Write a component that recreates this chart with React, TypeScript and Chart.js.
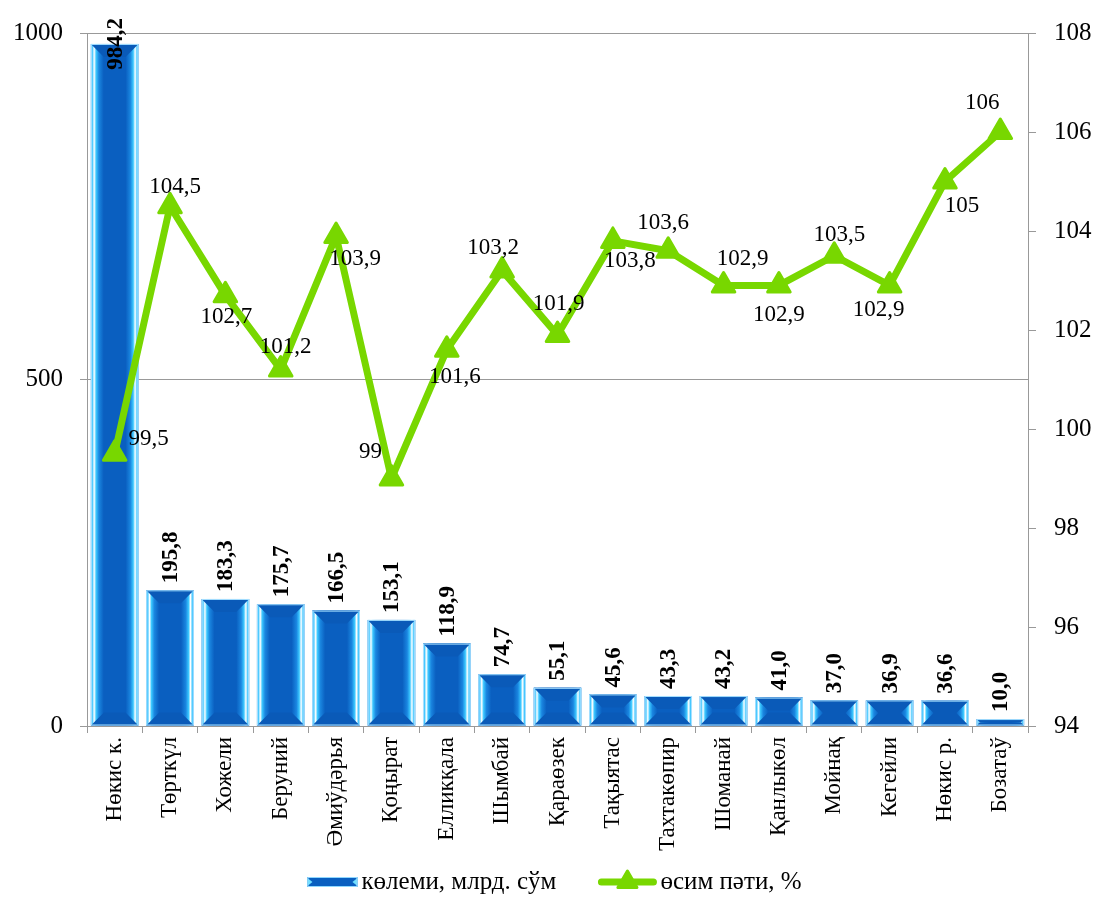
import React, { useEffect, useRef } from "react";
import { Chart, registerables } from "chart.js";

Chart.register(...registerables);

const categories = [
  "Нөкис к.",
  "Төрткүл",
  "Хожели",
  "Беруний",
  "Әмиўдәрья",
  "Қоңырат",
  "Елликқала",
  "Шымбай",
  "Қараөзек",
  "Тақыятас",
  "Тахтакөпир",
  "Шоманай",
  "Қанлыкөл",
  "Мойнақ",
  "Кегейли",
  "Нөкис р.",
  "Бозатаў",
];

const volumes = [984.2, 195.8, 183.3, 175.7, 166.5, 153.1, 118.9, 74.7, 55.1, 45.6, 43.3, 43.2, 41.0, 37.0, 36.9, 36.6, 10.0];

const growth = [99.5, 104.5, 102.7, 101.2, 103.9, 99, 101.6, 103.2, 101.9, 103.8, 103.6, 102.9, 102.9, 103.5, 102.9, 105, 106];

const seriesNames = ["көлеми, млрд. сўм", "өсим пәти, %"];

const leftAxis = { min: 0, max: 1000, step: 500 };
const rightAxis = { min: 94, max: 108, step: 2 };

// label placement (style only): offsets from each growth point
const growthLabelOffsets: [number, number][] = [
  [34, -15], [5, -19], [1, 22], [5, -23], [19, 23], [-21, -27], [8, 27], [-9, -23], [1, -31],
  [17, 20], [-5, -28], [19, -26], [0, 30], [5, -21], [-11, 25], [17, 24], [-18, -29],
];

const FONT = "'Liberation Serif', 'Times New Roman', serif";
const GREEN = "#78d700";
const BLUE = "#0a5fc0";

function paintBar(ctx: CanvasRenderingContext2D, left: number, top: number, right: number, bottom: number) {
  const w = right - left;
  const h = bottom - top;
  if (w <= 0 || h <= 0) return;
  const g = ctx.createLinearGradient(left, 0, right, 0);
  g.addColorStop(0, "#8fd8ff");
  g.addColorStop(0.03, "#3fc6ff");
  g.addColorStop(0.07, "#ffffff");
  g.addColorStop(0.11, "#3cc8ff");
  g.addColorStop(0.17, "#1a86e0");
  g.addColorStop(0.27, BLUE);
  g.addColorStop(0.73, BLUE);
  g.addColorStop(0.83, "#1a86e0");
  g.addColorStop(0.89, "#3cc8ff");
  g.addColorStop(0.93, "#ffffff");
  g.addColorStop(0.97, "#3fc6ff");
  g.addColorStop(1, "#8fd8ff");
  ctx.fillStyle = g;
  ctx.fillRect(left, top, w, h);
  const b = Math.min(13, h / 2, w / 2);
  ctx.fillStyle = "#0a5ab8";
  ctx.beginPath();
  ctx.moveTo(left, top);
  ctx.lineTo(right, top);
  ctx.lineTo(right - b, top + b);
  ctx.lineTo(left + b, top + b);
  ctx.closePath();
  ctx.fill();
  ctx.beginPath();
  ctx.moveTo(left, bottom);
  ctx.lineTo(right, bottom);
  ctx.lineTo(right - b, bottom - b);
  ctx.lineTo(left + b, bottom - b);
  ctx.closePath();
  ctx.fill();
  ctx.strokeStyle = "#a6e0ff";
  ctx.lineWidth = 1;
  ctx.strokeRect(left + 0.5, top + 0.5, w - 1, h - 1);
}

const barPainter = {
  id: "barPainter",
  beforeDatasetDraw(chart: any, args: any) {
    if (args.index === 1) {
      chart.ctx.save();
      chart.ctx.lineJoin = "round";
    }
  },
  afterDatasetDraw(chart: any, args: any) {
    if (args.index === 1) {
      chart.ctx.restore();
      return;
    }
    if (args.index !== 0) return;
    const ctx = chart.ctx as CanvasRenderingContext2D;
    const meta = chart.getDatasetMeta(0);
    ctx.save();
    meta.data.forEach((el: any) => {
      const p = el.getProps(["x", "y", "base", "width"], true);
      paintBar(ctx, p.x - p.width / 2, Math.min(p.y, p.base), p.x + p.width / 2, Math.max(p.y, p.base));
    });
    ctx.restore();
  },
};

const labelPainter = {
  id: "labelPainter",
  afterDatasetsDraw(chart: any) {
    const ctx = chart.ctx as CanvasRenderingContext2D;
    ctx.save();
    ctx.font = `bold 23px ${FONT}`;
    ctx.fillStyle = "#000";
    ctx.textAlign = "left";
    ctx.textBaseline = "middle";
    const barMeta = chart.getDatasetMeta(0);
    barMeta.data.forEach((el: any, i: number) => {
      const text = volumes[i].toFixed(1).replace(".", ",");
      const len = ctx.measureText(text).width;
      let anchor = el.y - 7;
      if (anchor - len < 2) anchor = len + 18;
      ctx.save();
      ctx.translate(el.x, anchor);
      ctx.rotate(-Math.PI / 2);
      ctx.fillText(text, 0, 1);
      ctx.restore();
    });
    ctx.font = `23px ${FONT}`;
    ctx.textAlign = "center";
    ctx.textBaseline = "middle";
    const lineMeta = chart.getDatasetMeta(1);
    lineMeta.data.forEach((el: any, i: number) => {
      const text = String(growth[i]).replace(".", ",");
      const [dx, dy] = growthLabelOffsets[i] || [0, -22];
      ctx.fillText(text, el.x + dx, el.y + dy);
    });
    ctx.restore();
  },
};

const legendPainter = {
  id: "legendPainter",
  afterDraw(chart: any) {
    const ctx = chart.ctx as CanvasRenderingContext2D;
    const area = chart.chartArea;
    ctx.save();
    ctx.font = `25px ${FONT}`;
    const w1 = ctx.measureText(seriesNames[0]).width;
    const w2 = ctx.measureText(seriesNames[1]).width;
    const boxW = 50;
    const lineW = 58;
    const gap = 4;
    const spacing = 42;
    const total = boxW + gap + w1 + spacing + lineW + gap + w2;
    let x = (area.left + area.right) / 2 - 3 - total / 2;
    const y = area.bottom + 156;
    ctx.fillStyle = BLUE;
    ctx.fillRect(x, y - 5, boxW, 10);
    ctx.fillStyle = "#6fe0ff";
    ctx.beginPath();
    ctx.moveTo(x, y - 4);
    ctx.lineTo(x + 5, y);
    ctx.lineTo(x, y + 4);
    ctx.closePath();
    ctx.fill();
    ctx.beginPath();
    ctx.moveTo(x + boxW, y - 4);
    ctx.lineTo(x + boxW - 5, y);
    ctx.lineTo(x + boxW, y + 4);
    ctx.closePath();
    ctx.fill();
    ctx.strokeStyle = "#8fd8ff";
    ctx.lineWidth = 1;
    ctx.strokeRect(x + 0.5, y - 4.5, boxW - 1, 9);
    x += boxW + gap;
    ctx.fillStyle = "#000";
    ctx.textAlign = "left";
    ctx.textBaseline = "middle";
    ctx.fillText(seriesNames[0], x, y);
    x += w1 + spacing;
    ctx.strokeStyle = GREEN;
    ctx.lineWidth = 7;
    ctx.lineCap = "round";
    ctx.beginPath();
    ctx.moveTo(x + 3, y);
    ctx.lineTo(x + lineW - 3, y);
    ctx.stroke();
    const cx = x + lineW / 2;
    const r = 11;
    ctx.fillStyle = GREEN;
    ctx.lineJoin = "round";
    ctx.lineWidth = 3;
    ctx.beginPath();
    ctx.moveTo(cx, y - r);
    ctx.lineTo(cx + r * 0.866, y + r * 0.5);
    ctx.lineTo(cx - r * 0.866, y + r * 0.5);
    ctx.closePath();
    ctx.fill();
    ctx.stroke();
    x += lineW + gap;
    ctx.fillStyle = "#000";
    ctx.fillText(seriesNames[1], x, y);
    ctx.restore();
  },
};

export default function App() {
  const canvasRef = useRef<HTMLCanvasElement | null>(null);

  useEffect(() => {
    if (!canvasRef.current) return;
    Chart.defaults.font.family = FONT;
    const chart = new Chart(canvasRef.current, {
      type: "bar",
      data: {
        labels: categories,
        datasets: [
          {
            type: "bar",
            label: seriesNames[0],
            data: volumes,
            yAxisID: "y",
            backgroundColor: BLUE,
            borderWidth: 0,
            barPercentage: 0.86,
            categoryPercentage: 1,
            order: 2,
          },
          {
            type: "line",
            label: seriesNames[1],
            data: growth,
            yAxisID: "y1",
            borderColor: GREEN,
            borderWidth: 7,
            borderJoinStyle: "round",
            backgroundColor: GREEN,
            pointStyle: "triangle",
            pointRadius: 13,
            pointBackgroundColor: GREEN,
            pointBorderColor: GREEN,
            pointBorderWidth: 3,
            tension: 0,
            order: 1,
            clip: false,
          } as any,
        ],
      },
      options: {
        animation: false,
        responsive: true,
        maintainAspectRatio: false,
        events: [],
        layout: { padding: { top: 25, left: 0, right: 0, bottom: 43 } },
        plugins: {
          legend: { display: false },
          tooltip: { enabled: false },
          title: { display: false },
        },
        scales: {
          x: {
            grid: { display: true, drawOnChartArea: false, drawTicks: true, tickLength: 7, color: "#999", offset: true },
            border: { display: true, color: "#999", width: 1 },
            ticks: {
              color: "#000",
              font: { size: 23, family: FONT },
              maxRotation: 90,
              minRotation: 90,
              autoSkip: false,
              padding: 4,
            },
            afterFit: (s: any) => {
              s.height = 130;
            },
          },
          y: {
            position: "left",
            min: leftAxis.min,
            max: leftAxis.max,
            ticks: {
              stepSize: leftAxis.step,
              color: "#000",
              font: { size: 25, family: FONT },
              padding: 17,
              callback: (v: any) => String(v),
            },
            grid: { color: "#999", tickLength: 7, drawTicks: true },
            border: { display: true, color: "#999" },
            afterFit: (s: any) => {
              s.width = 87;
            },
          },
          y1: {
            position: "right",
            min: rightAxis.min,
            max: rightAxis.max,
            ticks: {
              stepSize: rightAxis.step,
              color: "#000",
              font: { size: 25, family: FONT },
              padding: 18,
              callback: (v: any) => String(v),
            },
            grid: { drawOnChartArea: false, color: "#999", tickLength: 8, drawTicks: true },
            border: { display: true, color: "#999" },
            afterFit: (s: any) => {
              s.width = 67;
            },
          },
        },
      } as any,
      plugins: [barPainter, labelPainter, legendPainter],
    });
    return () => chart.destroy();
  }, []);

  return (
    <div style={{ position: "fixed", left: 0, top: 0, width: 1095, height: 899 }}>
      <canvas ref={canvasRef} />
    </div>
  );
}
